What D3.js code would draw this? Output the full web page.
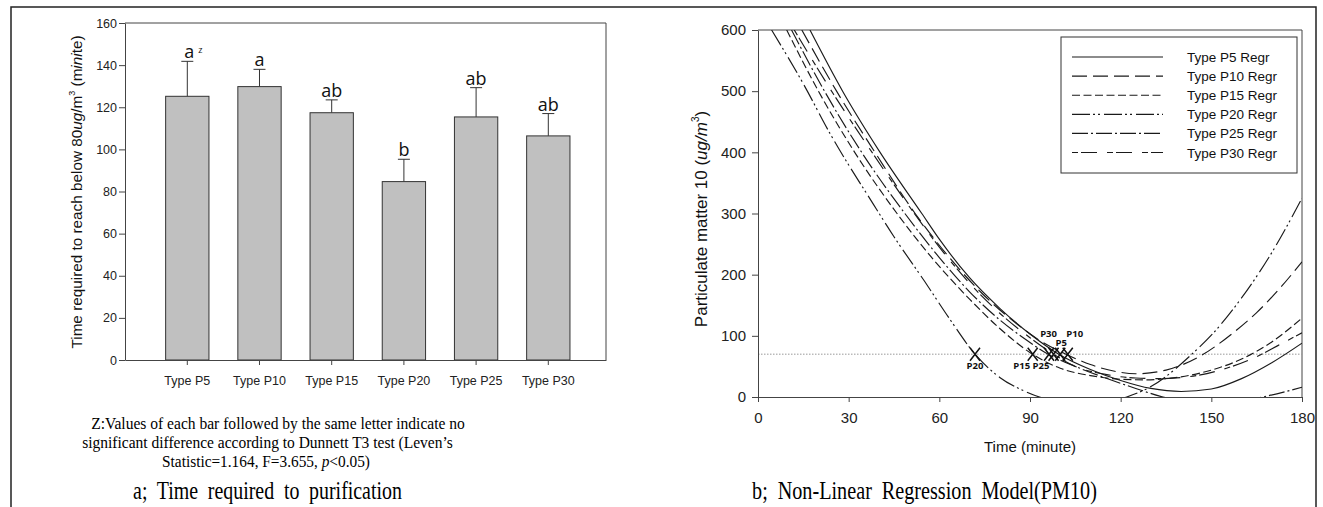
<!DOCTYPE html>
<html><head><meta charset="utf-8">
<script src="https://cdn.jsdelivr.net/npm/d3@7"></script>
<style>body{margin:0;background:#fff} svg{display:block}</style>
</head><body><svg id="c" width="1323" height="507"></svg>
<script>
// ---------- Panel a data ----------
const categories = ["Type P5","Type P10","Type P15","Type P20","Type P25","Type P30"];
const meanTime = [125.2, 129.8, 117.4, 84.7, 115.4, 106.4];
const errTime = [16.6, 8.2, 6.1, 10.6, 13.9, 10.6];
const sigLetters = ["a","a","ab","b","ab","ab"];
const sigSup = ["z","","","","",""];
const yTicksA = [0,20,40,60,80,100,120,140,160];

// ---------- Panel b data ----------
const seriesNames = ["Type P5 Regr","Type P10 Regr","Type P15 Regr","Type P20 Regr","Type P25 Regr","Type P30 Regr"];
const tP5  = [17.2, 28, 40.4, 54.2, 60, 70, 80, 90, 99.5, 110, 120, 130, 140, 150, 160, 170, 180];
const pmP5 = [600, 500, 400, 300, 258, 195, 145, 103, 70, 45, 27, 14, 9, 13, 30, 56, 88];
const tP10  = [14.5, 26, 38.7, 52, 63, 74, 85, 94, 101.9, 110, 118, 125, 135, 146, 157, 165, 172, 180];
const pmP10 = [600, 500, 400, 300, 230, 170, 122, 90, 70, 53, 42, 38, 44, 66, 104, 138, 174, 221];
const tP15  = [9.5, 20, 32, 46, 58, 70, 80, 90.8, 100, 110, 120, 128, 140, 150, 160, 170, 180];
const pmP15 = [600, 500, 400, 300, 225, 160, 112, 70, 47, 35, 29, 28, 33, 44, 62, 90, 129];
const tP20  = [4.5, 15, 23.8, 38.2, 45, 55, 63.5, 71.8, 80, 88, 95, 102, 108, 115, 122, 130, 144, 150, 160, 170, 180];
const pmP20 = [600, 512, 431, 315, 262, 190, 127, 70, 32, 10, -3, -11, -13, -10, 0, 17, 72, 101, 162, 236, 325];
const tP25  = [11.1, 22, 34.3, 48.6, 60, 70, 80, 88, 96, 105, 115, 125, 134, 142, 150, 158, 167, 180];
const pmP25 = [600, 500, 400, 300, 228, 172, 126, 96, 70, 50, 31, 14, 0, -7, -10, -8, 0, 16];
const tP30  = [12, 25, 38, 51, 60, 70, 80, 90, 97.8, 105, 115, 125, 133, 145, 155, 165, 172, 180];
const pmP30 = [600, 495, 398, 305, 245, 186, 137, 97, 70, 50, 37, 31, 30, 35, 47, 66, 84, 105];
const thresholdPM = 70;
const crossLabels = ["P5","P10","P15","P20","P25","P30"];
const crossTime = [100, 102.5, 90.9, 71.8, 96.3, 97.8];
const xTicksB = [0,30,60,90,120,150,180];
const yTicksB = [0,100,200,300,400,500,600];

const seriesT = [tP5,tP10,tP15,tP20,tP25,tP30];
const seriesV = [pmP5,pmP10,pmP15,pmP20,pmP25,pmP30];
const dashes = [null, "15,6", "8,3.5", "18,3,2,3,2,4", "16,3,2,3", "6,3,16,10"];
const labelOffsets = [[1,-8],[7,-17],[-11,15],[0,15],[-8,15],[-5,-17]];

const SANS = "'Liberation Sans', Arial, sans-serif";
const SERIF = "'Liberation Serif', 'Times New Roman', serif";
const INK = "#1a1a1a";
const svg = d3.select("#c");

// outer frame
svg.append("path").attr("d","M11,507 V7 H1316 V507").attr("fill","none").attr("stroke","#222").attr("stroke-width",1.5);

// ================= Panel a =================
const xA = d3.scaleBand().domain(categories).range([125,606]).paddingInner(0.4).paddingOuter(0.531).align(0.53);
const yA = d3.scaleLinear().domain([0,160]).range([360,23]);
const gA = svg.append("g");

gA.append("path").attr("d",`M125,23 H606 V360`).attr("fill","none").attr("stroke","#444").attr("stroke-width",1);

const bars = gA.selectAll("g.bar").data(categories.map((c,i)=>({c,v:meanTime[i],e:errTime[i],l:sigLetters[i],s:sigSup[i]}))).join("g");
bars.append("line")
  .attr("x1",d=>xA(d.c)+xA.bandwidth()/2).attr("x2",d=>xA(d.c)+xA.bandwidth()/2)
  .attr("y1",d=>yA(d.v)).attr("y2",d=>yA(d.v+d.e)).attr("stroke","#333").attr("stroke-width",1);
bars.append("line")
  .attr("x1",d=>xA(d.c)+xA.bandwidth()/2-6).attr("x2",d=>xA(d.c)+xA.bandwidth()/2+6)
  .attr("y1",d=>yA(d.v+d.e)).attr("y2",d=>yA(d.v+d.e)).attr("stroke","#333").attr("stroke-width",1);
bars.append("rect")
  .attr("x",d=>xA(d.c)).attr("width",xA.bandwidth())
  .attr("y",d=>yA(d.v)).attr("height",d=>yA(0)-yA(d.v))
  .attr("fill","#c0c0c0").attr("stroke","#333").attr("stroke-width",1);
bars.append("text")
  .attr("x",d=>xA(d.c)+xA.bandwidth()/2+(d.s?2:0)).attr("y",d=>yA(d.v+d.e)-3)
  .attr("text-anchor","middle").attr("font-family","'Open Sans', sans-serif").attr("font-size",18).attr("fill","#111")
  .text(d=>d.l);
bars.filter(d=>d.s).append("text")
  .attr("x",d=>xA(d.c)+xA.bandwidth()/2+11).attr("y",d=>yA(d.v+d.e)-8)
  .attr("font-family","'Open Sans', sans-serif").attr("font-size",9).attr("fill","#111")
  .text(d=>d.s);

const axA_y = gA.append("g").attr("transform","translate(125,0)")
  .call(d3.axisLeft(yA).tickValues(yTicksA).tickSize(6).tickPadding(2).tickSizeOuter(0));
const axA_x = gA.append("g").attr("transform","translate(0,360)")
  .call(d3.axisBottom(xA).tickSize(5).tickPadding(11).tickSizeOuter(0));
[axA_y,axA_x].forEach(a=>{
  a.selectAll("text").attr("font-family",SANS).attr("font-size",12.5).attr("fill","#222");
  a.selectAll("line,path").attr("stroke","#444");
});

const labA = gA.append("text").attr("transform","translate(82,192) rotate(-90)")
  .attr("text-anchor","middle").attr("font-family",SANS).attr("font-size",15.3).attr("fill","#111");
labA.append("tspan").text("Time required to reach below 80");
labA.append("tspan").attr("font-style","italic").text("ug");
labA.append("tspan").text("/m");
labA.append("tspan").attr("font-size",9).attr("dy",-7).text("3");
labA.append("tspan").attr("dy",7).text(" (m");
labA.append("tspan").attr("font-style","italic").text("ini");
labA.append("tspan").text("te)");

function fitText(g, cx, y, width, size, build, wordSpacing) {
  const t = g.append("text").attr("text-anchor","middle").attr("font-family",SERIF)
    .attr("font-size",size).attr("fill","#000");
  if (wordSpacing) t.attr("word-spacing",wordSpacing);
  build(t);
  const w = t.node().getComputedTextLength();
  t.attr("transform",`translate(${cx},${y}) scale(${width/w},1)`);
  return t;
}
fitText(gA, 278, 429, 374, 17, t=>t.text("Z:Values of each bar followed by the same letter indicate no"));
fitText(gA, 267.5, 448, 371, 17, t=>t.text("significant difference according to Dunnett T3 test (Leven\u2019s"));
fitText(gA, 266, 467, 208, 17, t=>{
  t.append("tspan").text("Statistic=1.164, F=3.655, ");
  t.append("tspan").attr("font-style","italic").text("p");
  t.append("tspan").text("<0.05)");
});
fitText(gA, 267.5, 499, 269, 25, t=>t.text("a; Time required to purification"), 6);

// ================= Panel b =================
const xB = d3.scaleLinear().domain([0,180]).range([758,1302]);
const yB = d3.scaleLinear().domain([0,600]).range([397,30]);
const gB = svg.append("g");

svg.append("defs").append("clipPath").attr("id","clipB").append("rect")
  .attr("x",758).attr("y",30).attr("width",544).attr("height",367);

gB.append("path").attr("d",`M758,30 H1302 V397`).attr("fill","none").attr("stroke","#444").attr("stroke-width",1);

gB.append("line").attr("x1",xB(0)).attr("x2",xB(180)).attr("y1",yB(thresholdPM)).attr("y2",yB(thresholdPM))
  .attr("stroke","#999").attr("stroke-width",1).attr("stroke-dasharray","1.5,1.5");

const line = d3.line().x(d=>xB(d[0])).y(d=>yB(d[1])).curve(d3.curveMonotoneX);
const curves = gB.append("g").attr("clip-path","url(#clipB)");
seriesNames.forEach((n,i)=>{
  const pts = seriesT[i].map((t,j)=>[t,seriesV[i][j]]);
  const p = curves.append("path").attr("d",line(pts)).attr("fill","none")
    .attr("stroke",INK).attr("stroke-width",1.15);
  if (dashes[i]) p.attr("stroke-dasharray",dashes[i]);
});

const axB_y = gB.append("g").attr("transform","translate(758,0)")
  .call(d3.axisLeft(yB).tickValues(yTicksB).tickSize(6).tickPadding(6).tickSizeOuter(0));
const axB_x = gB.append("g").attr("transform","translate(0,397)")
  .call(d3.axisBottom(xB).tickValues(xTicksB).tickSize(5).tickPadding(10).tickSizeOuter(0));
[axB_y,axB_x].forEach(a=>{
  a.selectAll("text").attr("font-family",SANS).attr("font-size",15).attr("fill","#222");
  a.selectAll("line,path").attr("stroke","#444");
});

// crossing markers
const mk = gB.append("g");
crossTime.forEach((t,i)=>{
  const cx = xB(t), cy = yB(thresholdPM);
  mk.append("path").attr("d",`M${cx-5},${cy-6.5} L${cx+5},${cy+6.5} M${cx+5},${cy-6.5} L${cx-5},${cy+6.5}`)
    .attr("stroke","#111").attr("stroke-width",1.5).attr("fill","none");
  mk.append("text").attr("x",cx+labelOffsets[i][0]).attr("y",cy+labelOffsets[i][1])
    .attr("text-anchor","middle").attr("font-family","'Open Sans', sans-serif").attr("font-weight","bold")
    .attr("font-size",9.5).attr("fill","#111").text(crossLabels[i]);
});

// legend
const lg = gB.append("g");
lg.append("rect").attr("x",1061).attr("y",37).attr("width",236).attr("height",136)
  .attr("fill","#fff").attr("stroke","#333").attr("stroke-width",1);
seriesNames.forEach((n,i)=>{
  const y = 57 + i*19.1;
  const l = lg.append("line").attr("x1",1072).attr("x2",1163).attr("y1",y).attr("y2",y)
    .attr("stroke",INK).attr("stroke-width",1.15);
  if (dashes[i]) l.attr("stroke-dasharray",dashes[i]);
  lg.append("text").attr("x",1187).attr("y",y+5).attr("font-family",SANS).attr("font-size",13.5)
    .attr("fill","#111").text(n);
});

// axis titles
const labB = gB.append("text").attr("transform","translate(707,219) rotate(-90)")
  .attr("text-anchor","middle").attr("font-family",SANS).attr("font-size",17).attr("fill","#111");
labB.append("tspan").text("Particulate matter 10 (");
labB.append("tspan").attr("font-style","italic").text("ug/m");
labB.append("tspan").attr("font-size",10).attr("dy",-8).text("3");
labB.append("tspan").attr("dy",8).text(")");

gB.append("text").attr("x",1030).attr("y",452).attr("text-anchor","middle")
  .attr("font-family",SANS).attr("font-size",15).attr("fill","#111").text("Time (minute)");

fitText(gB, 924.5, 499, 345, 25, t=>t.text("b; Non-Linear Regression Model(PM10)"), 6);
</script></body></html>
